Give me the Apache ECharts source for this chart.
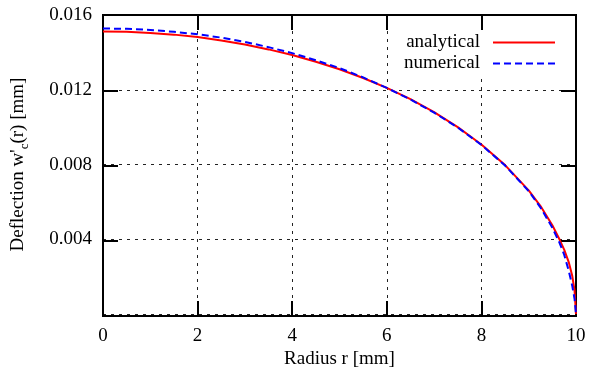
<!DOCTYPE html>
<html><head><meta charset="utf-8">
<script src="https://cdn.jsdelivr.net/npm/echarts@6/dist/echarts.min.js"></script>
<style>html,body{margin:0;padding:0;background:#fff}#c{width:591px;height:374px}</style>
</head><body><div id="c"></div>
<script>
const radius = [0, 0.5, 1, 1.5, 2, 2.5, 3, 3.5, 4, 4.5, 5, 5.5, 6, 6.5, 7, 7.5, 8, 8.5, 9, 9.25, 9.5, 9.65, 9.75, 9.85, 9.92, 9.97, 10];
const analytical = [0.01512, 0.01510, 0.01504, 0.01495, 0.01482, 0.01464, 0.01442, 0.01416, 0.01386, 0.01350, 0.01310, 0.01263, 0.01210, 0.01150, 0.01080, 0.01000, 0.00907, 0.00797, 0.00662, 0.00578, 0.00475, 0.00400, 0.00345, 0.00275, 0.00205, 0.00125, 0];
const numerical = [0.01528, 0.01526, 0.01520, 0.01510, 0.01497, 0.01479, 0.01456, 0.01428, 0.01396, 0.01358, 0.01316, 0.01266, 0.01210, 0.01148, 0.01078, 0.00998, 0.00905, 0.00795, 0.00658, 0.00570, 0.00462, 0.00382, 0.00318, 0.00228, 0.00152, 0.00080, 0];
const xTicks = [0, 2, 4, 6, 8, 10];
const yTicks = [0, 0.004, 0.008, 0.012, 0.016];

const FONT = 'Liberation Serif';
const chart = echarts.init(document.getElementById('c'));
const pairs = a => radius.map((r, i) => [r, a[i]]);
const axisLine = () => ({show: true, lineStyle: {color: '#000', width: 2}});
const tick = inside => ({show: true, inside: inside, length: 15, lineStyle: {color: '#000', width: 2}});
const split = () => ({show: true, lineStyle: {color: '#222', width: 1, type: [3, 5]}});
const gridBox = () => ({left: 103, right: 15, top: 15, bottom: 58, containLabel: false});
// frame axes: same tick spacing as the data axes, offset ranges (no zero) so they stay on their own edge
const frameX = (g, pos, inside) => ({type: 'value', gridIndex: g, position: pos, min: 10, max: 20, interval: 2,
  axisLine: axisLine(), axisTick: tick(inside), axisLabel: {show: false}, splitLine: {show: false}});
const frameY = (g, pos, inside) => ({type: 'value', gridIndex: g, position: pos, min: 4, max: 20, interval: 4,
  axisLine: axisLine(), axisTick: tick(inside), axisLabel: {show: false}, splitLine: {show: false}});
const hidden = g => ({type: 'value', gridIndex: g, show: false, min: 1, max: 2});
chart.setOption({
  animation: false,
  textStyle: {fontFamily: FONT},
  grid: [
    gridBox(),
    Object.assign(gridBox(), {show: true, borderColor: '#000', borderWidth: 2, backgroundColor: 'transparent'}),
    {left: 103, right: 15, top: 316, height: 10, containLabel: false},
    {left: 93, width: 10, top: 15, bottom: 58, containLabel: false}
  ],
  legend: {
    right: 31, top: 31, orient: 'vertical', align: 'right',
    itemWidth: 62, itemHeight: 10, itemGap: 2,
    backgroundColor: '#fff', padding: [2, 4, 6, 12],
    itemStyle: {opacity: 0},
    textStyle: {fontFamily: FONT, fontSize: 19, color: '#000', width: 72, align: 'right', padding: [0, 8, 0, 0]},
    data: ['analytical', 'numerical']
  },
  xAxis: [{
    type: 'value', gridIndex: 0, min: xTicks[0], max: xTicks[xTicks.length - 1], interval: 2,
    axisLine: {show: false}, axisTick: {show: false}, splitLine: split(),
    axisLabel: {fontFamily: FONT, fontSize: 19, color: '#000', margin: 12},
    name: 'Radius r [mm]', nameLocation: 'middle', nameGap: 33,
    nameTextStyle: {fontFamily: FONT, fontSize: 19, color: '#000'}
  }, frameX(1, 'top', true), frameX(2, 'top', false), hidden(3)],
  yAxis: [{
    type: 'value', gridIndex: 0, min: yTicks[0], max: yTicks[yTicks.length - 1], interval: 0.004,
    axisLine: {show: false}, axisTick: {show: false}, splitLine: split(),
    axisLabel: {fontFamily: FONT, fontSize: 19, color: '#000', margin: 11,
      formatter: v => v === 0 ? '' : v.toFixed(3)},
    name: "{n|Deflection w'}{sub|c}{n|(r) [mm]}", nameLocation: 'middle', nameGap: 74, nameRotate: 90,
    nameTextStyle: {fontFamily: FONT, fontSize: 19, color: '#000',
      rich: {
        n: {fontFamily: FONT, fontSize: 19, color: '#000', lineHeight: 20, verticalAlign: 'top'},
        sub: {fontFamily: FONT, fontSize: 13, color: '#000', lineHeight: 13, padding: [9, 0, 0, 0], verticalAlign: 'top'}
      }}
  }, frameY(1, 'right', true), hidden(2), frameY(3, 'right', false)],
  series: [{
    name: 'analytical', type: 'line', xAxisIndex: 0, yAxisIndex: 0, data: pairs(analytical), showSymbol: false, symbol: 'none',
    lineStyle: {color: '#ff0000', width: 2}, itemStyle: {color: '#ff0000'}, z: 3
  }, {
    name: 'numerical', type: 'line', xAxisIndex: 0, yAxisIndex: 0, data: pairs(numerical), showSymbol: false, symbol: 'none',
    lineStyle: {color: '#0000ff', width: 2, type: [7, 4]}, itemStyle: {color: '#0000ff'}, z: 4
  }]
});
</script></body></html>
